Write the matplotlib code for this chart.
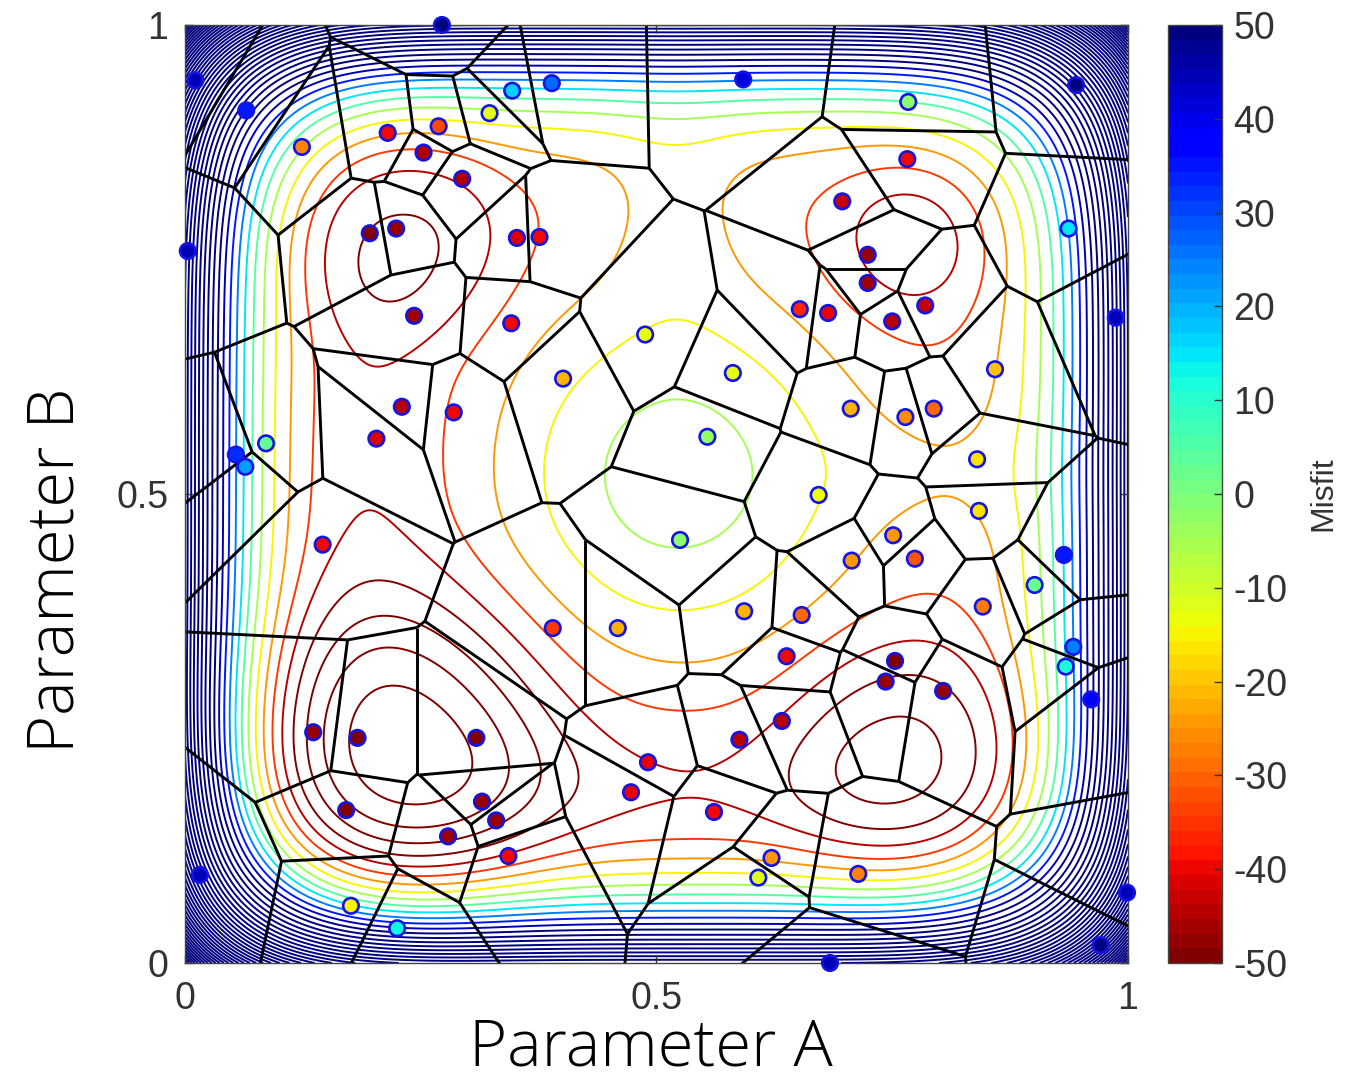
import numpy as np
import matplotlib
matplotlib.use("Agg")
import matplotlib.pyplot as plt
import matplotlib.tri as mtri
from matplotlib.collections import LineCollection
from matplotlib.colors import Normalize
from matplotlib import font_manager as fm

plt.rcParams["axes.unicode_minus"] = False

# ---- sampled models: position in (A, B) and their misfit ----
param_a = [0.2725, 0.011, 0.065, 0.124, 0.215, 0.269, 0.253, 0.294, 0.323, 0.347,
           0.389, 0.592, 0.767, 0.945, 0.003, 0.196, 0.224, 0.352, 0.376, 0.243,
           0.346, 0.766, 0.697, 0.724, 0.724, 0.785, 0.750, 0.652, 0.682, 0.937,
           0.987, 0.488, 0.401, 0.581, 0.230, 0.285, 0.203, 0.554, 0.086, 0.054,
           0.064, 0.706, 0.764, 0.794, 0.859, 0.840, 0.842, 0.672, 0.525, 0.146,
           0.751, 0.774, 0.707, 0.932, 0.901, 0.846, 0.593, 0.654, 0.390, 0.459,
           0.942, 0.934, 0.638, 0.753, 0.743, 0.804, 0.961, 0.136, 0.183, 0.309,
           0.633, 0.588, 0.491, 0.473, 0.171, 0.315, 0.330, 0.279, 0.561, 0.343,
           0.622, 0.608, 0.714, 0.016, 0.176, 0.225, 0.684, 0.999, 0.971]
param_b = [1.000, 0.941, 0.909, 0.870, 0.885, 0.892, 0.864, 0.836, 0.906, 0.930,
           0.938, 0.942, 0.918, 0.936, 0.759, 0.778, 0.783, 0.773, 0.774, 0.690,
           0.682, 0.857, 0.812, 0.755, 0.725, 0.701, 0.684, 0.697, 0.693, 0.783,
           0.688, 0.670, 0.623, 0.629, 0.593, 0.587, 0.559, 0.561, 0.554, 0.542,
           0.529, 0.591, 0.582, 0.591, 0.633, 0.537, 0.482, 0.499, 0.451, 0.446,
           0.456, 0.431, 0.429, 0.435, 0.403, 0.380, 0.375, 0.371, 0.357, 0.357,
           0.337, 0.316, 0.327, 0.322, 0.300, 0.290, 0.281, 0.246, 0.240, 0.240,
           0.258, 0.238, 0.214, 0.182, 0.163, 0.172, 0.152, 0.135, 0.161, 0.114,
           0.112, 0.091, 0.095, 0.094, 0.061, 0.037, 0.000, 0.075, 0.019]
misfit = [50, 45, 35, -27, -40, -33, -46, -46, -13, 17,
          27, 42, -2, 55, 45, -50, -48, -42, -40, -47,
          -40, -40, -44, -48, -47, -44, -45, -37, -41, 15,
          45, -13, -22, -13, -45, -40, -42, -3, 3, 33,
          22, -22, -26, -30, -20, -17, -17, -14, -2, -40,
          -25, -32, -25, 35, 2, -28, -22, -30, -35, -22,
          25, 12, -40, -50, -48, -48, 38, -48, -50, -50,
          -45, -45, -41, -41, -50, -48, -48, -48, -40, -40,
          -25, -12, -27, 45, -15, 13, 45, 45, 50]

# ---- misfit surface: central high, four basins, valleys, ridges, steep walls ----
bowl_floor, bowl_top, bowl_width, bowl_a, bowl_b = -40.0, 40.0, 0.15, 0.522, 0.520
well_a = [0.228, 0.772, 0.226, 0.767]
well_b = [0.778, 0.772, 0.224, 0.217]
well_depth = [-17, -19, -46, -28]
well_width = [0.09, 0.058, 0.125, 0.10]
well_shape = [3.0, 2.0, 2.6, 2.6]
valley_a = [0.165, 0.50]
valley_b = [0.50, 0.17]
valley_wa = [0.09, 0.25]
valley_wb = [0.25, 0.07]
valley_depth = [-11, -13]
ridge_a = [0.52, 0.80]
ridge_b = [0.80, 0.525]
ridge_wa = [0.05, 0.08]
ridge_wb = [0.08, 0.045]
ridge_height = [9, 6]
wall_height, wall_power, wall_round = 175.0, 8, 6
contour_step = 10
contour_start = -125

cbar_ticks = [-50, -40, -30, -20, -10, 0, 10, 20, 30, 40, 50]
axis_ticks = [0, 0.5, 1]
axis_ticklabels = ["0", "0.5", "1"]


def surface(a, b):
    r2 = (a - bowl_a) ** 2 + (b - bowl_b) ** 2
    z = bowl_floor + bowl_top * np.exp(-r2 / (2 * bowl_width ** 2))
    for wa, wb, dep, wid, q in zip(well_a, well_b, well_depth, well_width, well_shape):
        r = np.sqrt((a - wa) ** 2 + (b - wb) ** 2)
        z += dep * np.exp(-0.5 * (r / wid) ** q)
    for va, vb, sa, sb, dep in zip(valley_a, valley_b, valley_wa, valley_wb, valley_depth):
        z += dep * np.exp(-(a - va) ** 2 / (2 * sa ** 2) - (b - vb) ** 2 / (2 * sb ** 2))
    for ra, rb, sa, sb, h in zip(ridge_a, ridge_b, ridge_wa, ridge_wb, ridge_height):
        z += h * np.exp(-(a - ra) ** 2 / (2 * sa ** 2) - (b - rb) ** 2 / (2 * sb ** 2))
    n = (np.abs(2 * a - 1) ** wall_round + np.abs(2 * b - 1) ** wall_round) ** (1.0 / wall_round)
    z += wall_height * n ** wall_power
    return z


def light_font():
    for fam in ["Open Sans", "Lato", "Roboto", "Noto Sans", "Inter"]:
        for f in fm.fontManager.ttflist:
            if (f.name == fam and f.style == "normal" and f.stretch == "normal"
                    and f.weight in (300, "light")):
                return fm.FontProperties(fname=f.fname)
    return fm.FontProperties(family="Open Sans", weight="light")


cmap = plt.get_cmap("jet_r")
norm = Normalize(vmin=-50, vmax=50)

fig = plt.figure(figsize=(13.47, 10.82), dpi=100)
ax = fig.add_axes([0.1373, 0.1100, 0.7001, 0.8669])
cax = fig.add_axes([0.8671, 0.1100, 0.0401, 0.8669])

ga, gb = np.meshgrid(np.linspace(0, 1, 500), np.linspace(0, 1, 500))
gz = surface(ga, gb)
levels = np.arange(contour_start, 600, contour_step)
ax.contour(ga, gb, gz, levels=levels, cmap=cmap, norm=norm, linewidths=1.4, zorder=1)

# ---- Voronoi cells built from the Delaunay triangulation ----
pts = np.column_stack([param_a, param_b])
tri = mtri.Triangulation(pts[:, 0], pts[:, 1])
T = tri.triangles
p0, p1, p2 = pts[T[:, 0]], pts[T[:, 1]], pts[T[:, 2]]
d = 2 * (p0[:, 0] * (p1[:, 1] - p2[:, 1]) + p1[:, 0] * (p2[:, 1] - p0[:, 1])
         + p2[:, 0] * (p0[:, 1] - p1[:, 1]))
s0, s1, s2 = (p0 ** 2).sum(1), (p1 ** 2).sum(1), (p2 ** 2).sum(1)
cx = (s0 * (p1[:, 1] - p2[:, 1]) + s1 * (p2[:, 1] - p0[:, 1]) + s2 * (p0[:, 1] - p1[:, 1])) / d
cy = (s0 * (p2[:, 0] - p1[:, 0]) + s1 * (p0[:, 0] - p2[:, 0]) + s2 * (p1[:, 0] - p0[:, 0])) / d

segments = []
for i, t in enumerate(T):
    for k in range(3):
        j = tri.neighbors[i, k]
        if j == -1:
            q1, q2 = pts[t[k]], pts[t[(k + 1) % 3]]
            e = q2 - q1
            n = np.array([e[1], -e[0]])
            if np.dot(n, (q1 + q2) / 2 - pts[t[(k + 2) % 3]]) < 0:
                n = -n
            n /= np.linalg.norm(n)
            segments.append([(cx[i], cy[i]), (cx[i] + 5 * n[0], cy[i] + 5 * n[1])])
        elif j > i:
            segments.append([(cx[i], cy[i]), (cx[j], cy[j])])

ax.add_collection(LineCollection(segments, colors="black", linewidths=2.1, zorder=2))

ax.scatter(param_a, param_b, c=misfit, cmap=cmap, norm=norm, s=125,
           edgecolors="#1414e6", linewidths=1.9, zorder=3, clip_on=False)

ax.set_xlim(0, 1)
ax.set_ylim(0, 1)
ax.set_xticks(axis_ticks)
ax.set_xticklabels(axis_ticklabels)
ax.set_yticks(axis_ticks)
ax.set_yticklabels(axis_ticklabels)
ax.tick_params(direction="in", length=6, width=1.0, colors="#333333",
               labelsize=27, top=True, right=True)
ax.tick_params(axis="x", pad=13)
ax.tick_params(axis="y", pad=12)
for lab in ax.get_xticklabels() + ax.get_yticklabels():
    lab.set_family("Liberation Sans")
for sp in ax.spines.values():
    sp.set_color("#444444")
    sp.set_linewidth(1.0)

lf = light_font()
lf.set_size(47)
fig.text(651 / 1347, 1 - 1066 / 1082, "Parameter A", fontproperties=lf,
         ha="center", va="baseline", color="black")
fig.text(74 / 1347, 1 - 570 / 1082, "Parameter B", fontproperties=lf,
         ha="center", va="baseline", rotation=90, rotation_mode="anchor", color="black")

# ---- colour bar ----
sm = matplotlib.cm.ScalarMappable(norm=norm, cmap=plt.get_cmap("jet_r", 64))
cb = fig.colorbar(sm, cax=cax, ticks=cbar_ticks)
cb.outline.set_edgecolor("#444444")
cb.outline.set_linewidth(1.0)
cax.tick_params(direction="in", length=6, width=1.0, colors="#333333",
                labelsize=27, pad=8)
for lab in cax.get_yticklabels():
    lab.set_family("Liberation Sans")
cb.set_label("Misfit", family="Liberation Sans", fontsize=23, color="#333333",
             labelpad=15)

fig.savefig("out.png", dpi=100, facecolor="white")
